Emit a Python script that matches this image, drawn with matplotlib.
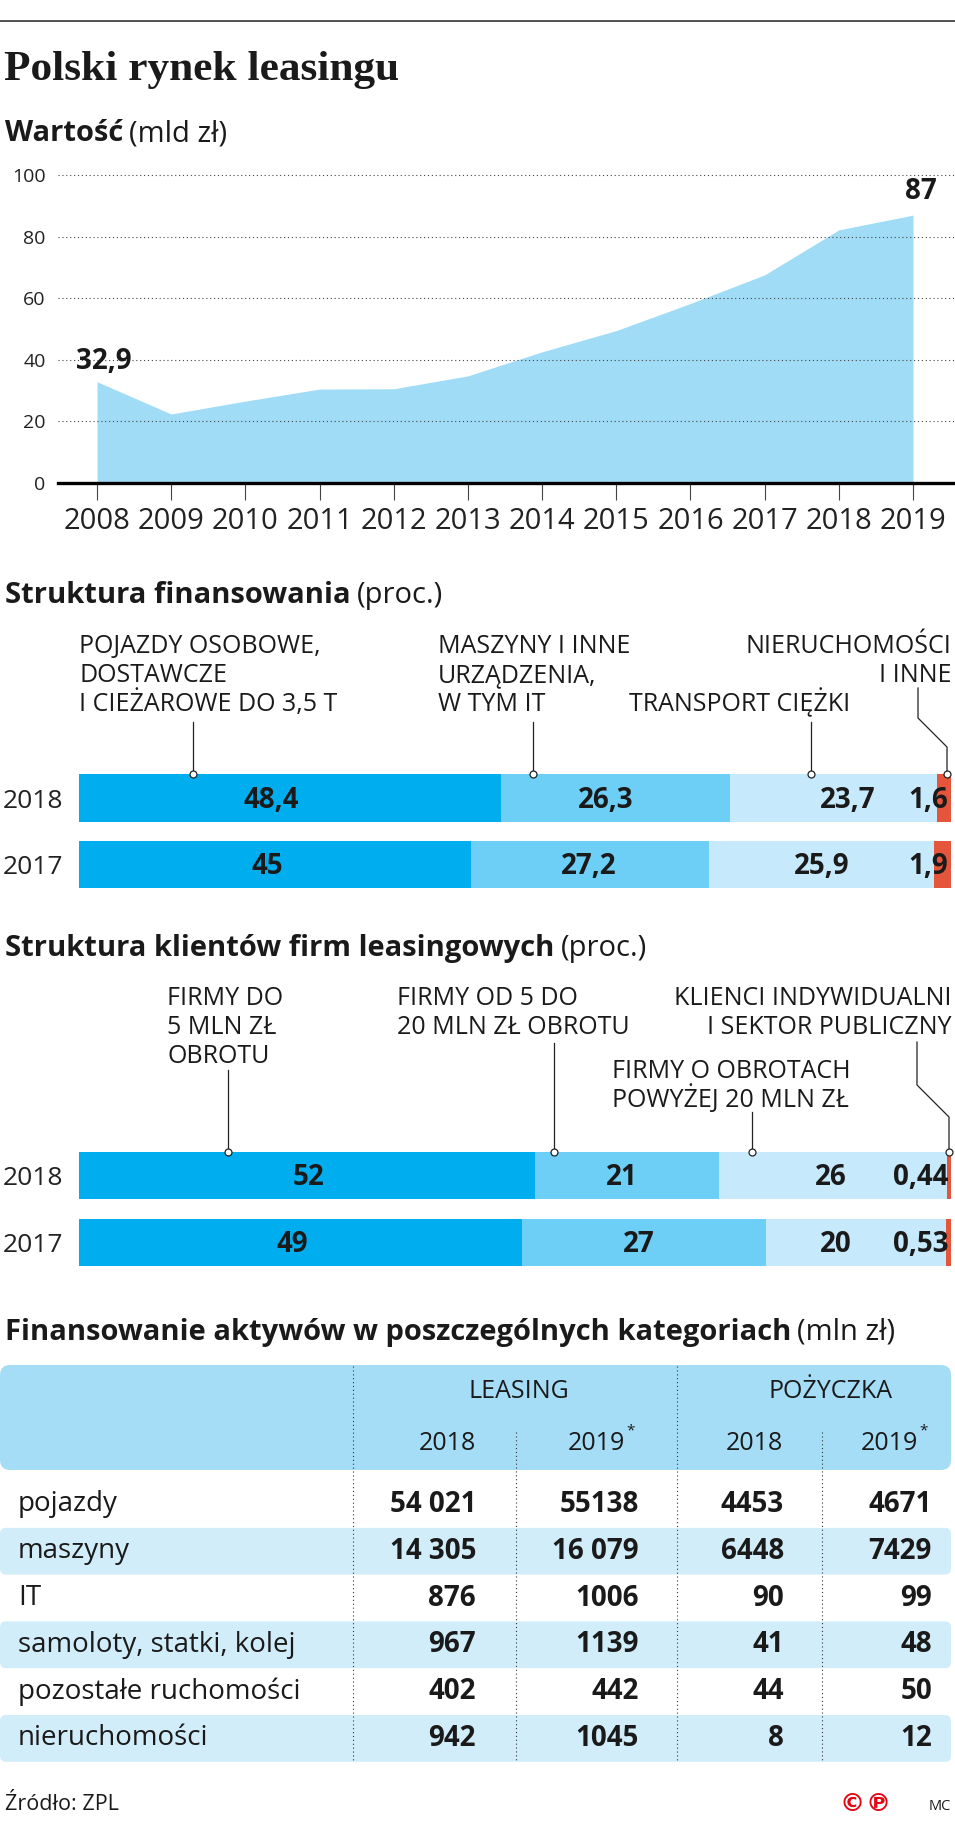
import matplotlib
matplotlib.use('Agg')
import matplotlib.pyplot as plt
from matplotlib.lines import Line2D
from matplotlib.patches import FancyBboxPatch

plt.rcParams['font.family'] = ['Open Sans', 'DejaVu Sans']
plt.rcParams['text.color'] = '#1a1a1a'

# wartość rynku (mld zł)
years = [2008, 2009, 2010, 2011, 2012, 2013, 2014, 2015, 2016, 2017, 2018, 2019]
value = [32.9, 22.4, 26.6, 30.5, 30.6, 34.8, 42.6, 49.5, 58.3, 67.6, 82.2, 87.0]

bar_years = ['2018', '2017']

# struktura finansowania (proc.)
fin_2018 = [48.4, 26.3, 23.7, 1.6]
fin_2017 = [45, 27.2, 25.9, 1.9]

# struktura klientów (proc.)
cli_2018 = [52, 21, 26, 0.44]
cli_2017 = [49, 27, 20, 0.53]

# tabela (mln zł)
tab_rows = ['pojazdy', 'maszyny', 'IT', 'samoloty, statki, kolej',
            'pozostałe ruchomości', 'nieruchomości']
tab_groups = ['LEASING', 'POŻYCZKA']
tab_years = ['2018', '2019', '2018', '2019']
leasing_2018 = ['54 021', '14 305', '876', '967', '402', '942']
leasing_2019 = ['55138', '16 079', '1006', '1139', '442', '1045']
loan_2018 = ['4453', '6448', '90', '41', '44', '8']
loan_2019 = ['4671', '7429', '99', '48', '50', '12']

seg_colors = ['#00AEEF', '#6DCFF6', '#C6E9FB', '#E5553B']

# where the value labels sit inside the bars (percent of bar width)
fin_lab_x = [[22.0, 60.4, 88.2], [21.6, 58.4, 85.2]]
cli_lab_x = [[26.3, 62.3, 86.2], [24.5, 64.2, 86.8]]

W, H = 955, 1821
fig = plt.figure(figsize=(W / 100, H / 100), dpi=100)


def box(l, t, r, b):
    return [l / W, 1 - b / H, (r - l) / W, (b - t) / H]


def put(x, y, s, **kw):
    return fig.text(x / W, 1 - y / H, s, **kw)


def line(xs, ys, **kw):
    fig.add_artist(Line2D([x / W for x in xs], [1 - y / H for y in ys], **kw))


def leader(xs, ys):
    line(xs, ys, color='#222', lw=0.9)
    line(xs[-1:], ys[-1:], lw=0, marker='o', ms=5, mfc='white', mec='#222', mew=0.9)


def pl(v):
    return f'{v:g}'.replace('.', ',')


def heading(y, bold, rest):
    t = put(5, y, bold, weight='bold', size=21, va='baseline')
    bb = t.get_window_extent(fig.canvas.get_renderer())
    put(bb.x1 + 6, y, rest, size=21, va='baseline')


def labels(x, y0, rows, ha='left', step=29):
    for i, s in enumerate(rows):
        put(x, y0 + i * step, s, ha=ha, va='baseline', size=18, color='#1a1a1a')


def stacked(ax, rows, height, lab_x):
    for i, vals in enumerate(rows):
        tot = sum(vals)
        left = 0
        for j, v in enumerate(vals):
            w = v / tot * 100
            ax.barh(i, w, left=left, height=height, color=seg_colors[j], lw=0)
            if j < 3:
                ax.text(lab_x[i][j], i + 0.03, pl(v), ha='center', va='center',
                        weight='bold', size=20)
            else:
                ax.text(99.7, i + 0.03, pl(v), ha='right', va='center', weight='bold', size=20)
            left += w
    ax.set_xlim(0, 100)
    ax.set_yticks([0, 1], bar_years)
    ax.set_xticks([])
    ax.tick_params(axis='y', length=0, pad=11, labelsize=19, labelcolor='#222')
    for s in ax.spines.values():
        s.set_visible(False)


# naglowek
line([0, W], [21, 21], color='#333', lw=1.2)
put(4, 80, 'Polski rynek leasingu', family='Liberation Serif', weight='bold',
    size=31.2, va='baseline')
heading(141, 'Wartość', '(mld zł)')

# wykres wartosci
ax1 = fig.add_axes(box(58, 172, W, 483))
ax1.fill_between(years, value, color='#A0DCF6', lw=0)
ax1.set_xlim(2007.474, 2019.566)
ax1.set_ylim(0, 101)
ax1.set_xticks(years)
ax1.set_yticks(range(0, 101, 20))
ax1.grid(axis='y', ls=(0, (1, 2.5)), color='#444', lw=0.8)
for s in ['top', 'right', 'left']:
    ax1.spines[s].set_visible(False)
ax1.spines['bottom'].set_linewidth(2.4)
ax1.tick_params(axis='x', length=12.5, width=0.8, color='#444', pad=5,
                labelsize=21, labelcolor='#222')
ax1.tick_params(axis='y', length=0, pad=9, labelsize=14, labelcolor='#222')
ax1.text(2008.09, 39.3, pl(value[0]), ha='center', va='center', weight='bold', size=20)
ax1.text(2019.11, 94.6, pl(value[-1]), ha='center', va='center', weight='bold', size=20)

# struktura finansowania
heading(603, 'Struktura finansowania', '(proc.)')
labels(79, 653, ['POJAZDY OSOBOWE,', 'DOSTAWCZE', 'I CIEŻAROWE DO 3,5 T'])
labels(438, 653, ['MASZYNY I INNE', 'URZĄDZENIA,', 'W TYM IT'])
labels(629, 711, ['TRANSPORT CIĘŻKI'])
labels(951, 653, ['NIERUCHOMOŚCI', 'I INNE'], ha='right')

ax2 = fig.add_axes(box(79, 774, 951, 888))
stacked(ax2, [fin_2018, fin_2017], 0.72, fin_lab_x)
ax2.set_ylim(1.353, -0.361)

leader([193, 193], [722, 774])
leader([533, 533], [722, 774])
leader([811, 811], [722, 774])
leader([918, 918, 947, 947], [688, 718, 747, 774])

# struktura klientow
heading(956, 'Struktura klientów firm leasingowych', '(proc.)')
labels(167, 1005, ['FIRMY DO', '5 MLN ZŁ', 'OBROTU'])
labels(397, 1005, ['FIRMY OD 5 DO', '20 MLN ZŁ OBROTU'])
labels(951, 1005, ['KLIENCI INDYWIDUALNI', 'I SEKTOR PUBLICZNY'], ha='right')
labels(612, 1078, ['FIRMY O OBROTACH', 'POWYŻEJ 20 MLN ZŁ'])

ax3 = fig.add_axes(box(79, 1152, 951, 1266))
stacked(ax3, [cli_2018, cli_2017], 0.70, cli_lab_x)
ax3.set_ylim(1.351, -0.351)

leader([228, 228], [1070, 1152])
leader([554, 554], [1043, 1152])
leader([752, 752], [1112, 1152])
leader([917, 917, 949, 949], [1042, 1085, 1117, 1152])

# tabela
heading(1340, 'Finansowanie aktywów w poszczególnych kategoriach', '(mln zł)')

ax4 = fig.add_axes(box(0, 1360, W, 1770))
ax4.set_xlim(0, W)
ax4.set_ylim(1770, 1360)
ax4.axis('off')
ax4.add_patch(FancyBboxPatch((0, 1365), 951, 105, boxstyle='round,pad=0,rounding_size=10',
                             fc='#A6DDF6', ec='none'))

row_top, row_h = 1481, 46.8
col_right = [476, 639, 784, 932]
columns = [leasing_2018, leasing_2019, loan_2018, loan_2019]
for i, name in enumerate(tab_rows):
    y0 = row_top + i * row_h
    if i % 2:
        ax4.add_patch(FancyBboxPatch((0, y0), 951, row_h, boxstyle='round,pad=0,rounding_size=6',
                                     fc='#D2EDFA', ec='none'))
    ax4.text(18, y0 + row_h / 2, name, va='center', size=20)
    for col, x in zip(columns, col_right):
        ax4.text(x, y0 + row_h / 2, col[i], ha='right', va='center', weight='bold', size=20)

ax4.vlines([353, 677], 1366, 1762, color='#333', lw=0.8, ls=(0, (1, 2.5)))
ax4.vlines([516, 822], 1432, 1762, color='#333', lw=0.8, ls=(0, (1, 2.5)))

for g, x in zip(tab_groups, [519, 830]):
    ax4.text(x, 1392, g, ha='center', va='center', size=18)
for yr, x in zip(tab_years, [476, 625, 783, 918]):
    ax4.text(x, 1443, yr, ha='right', va='center', size=18)
    if yr == '2019':
        ax4.text(x + 1, 1431, '*', ha='left', va='center', size=11)

# stopka
put(5, 1805, 'Źródło: ZPL', va='center', size=15.5)
put(852, 1804, '©', ha='center', va='center', size=18, weight='bold', color='#E30613',
    family=['DejaVu Sans'])
put(878, 1804, '℗', ha='center', va='center', size=18, weight='bold', color='#E30613',
    family=['DejaVu Sans'])
put(940, 1806, 'MC', ha='center', va='center', size=10.5)

fig.savefig('out.png', dpi=100)
